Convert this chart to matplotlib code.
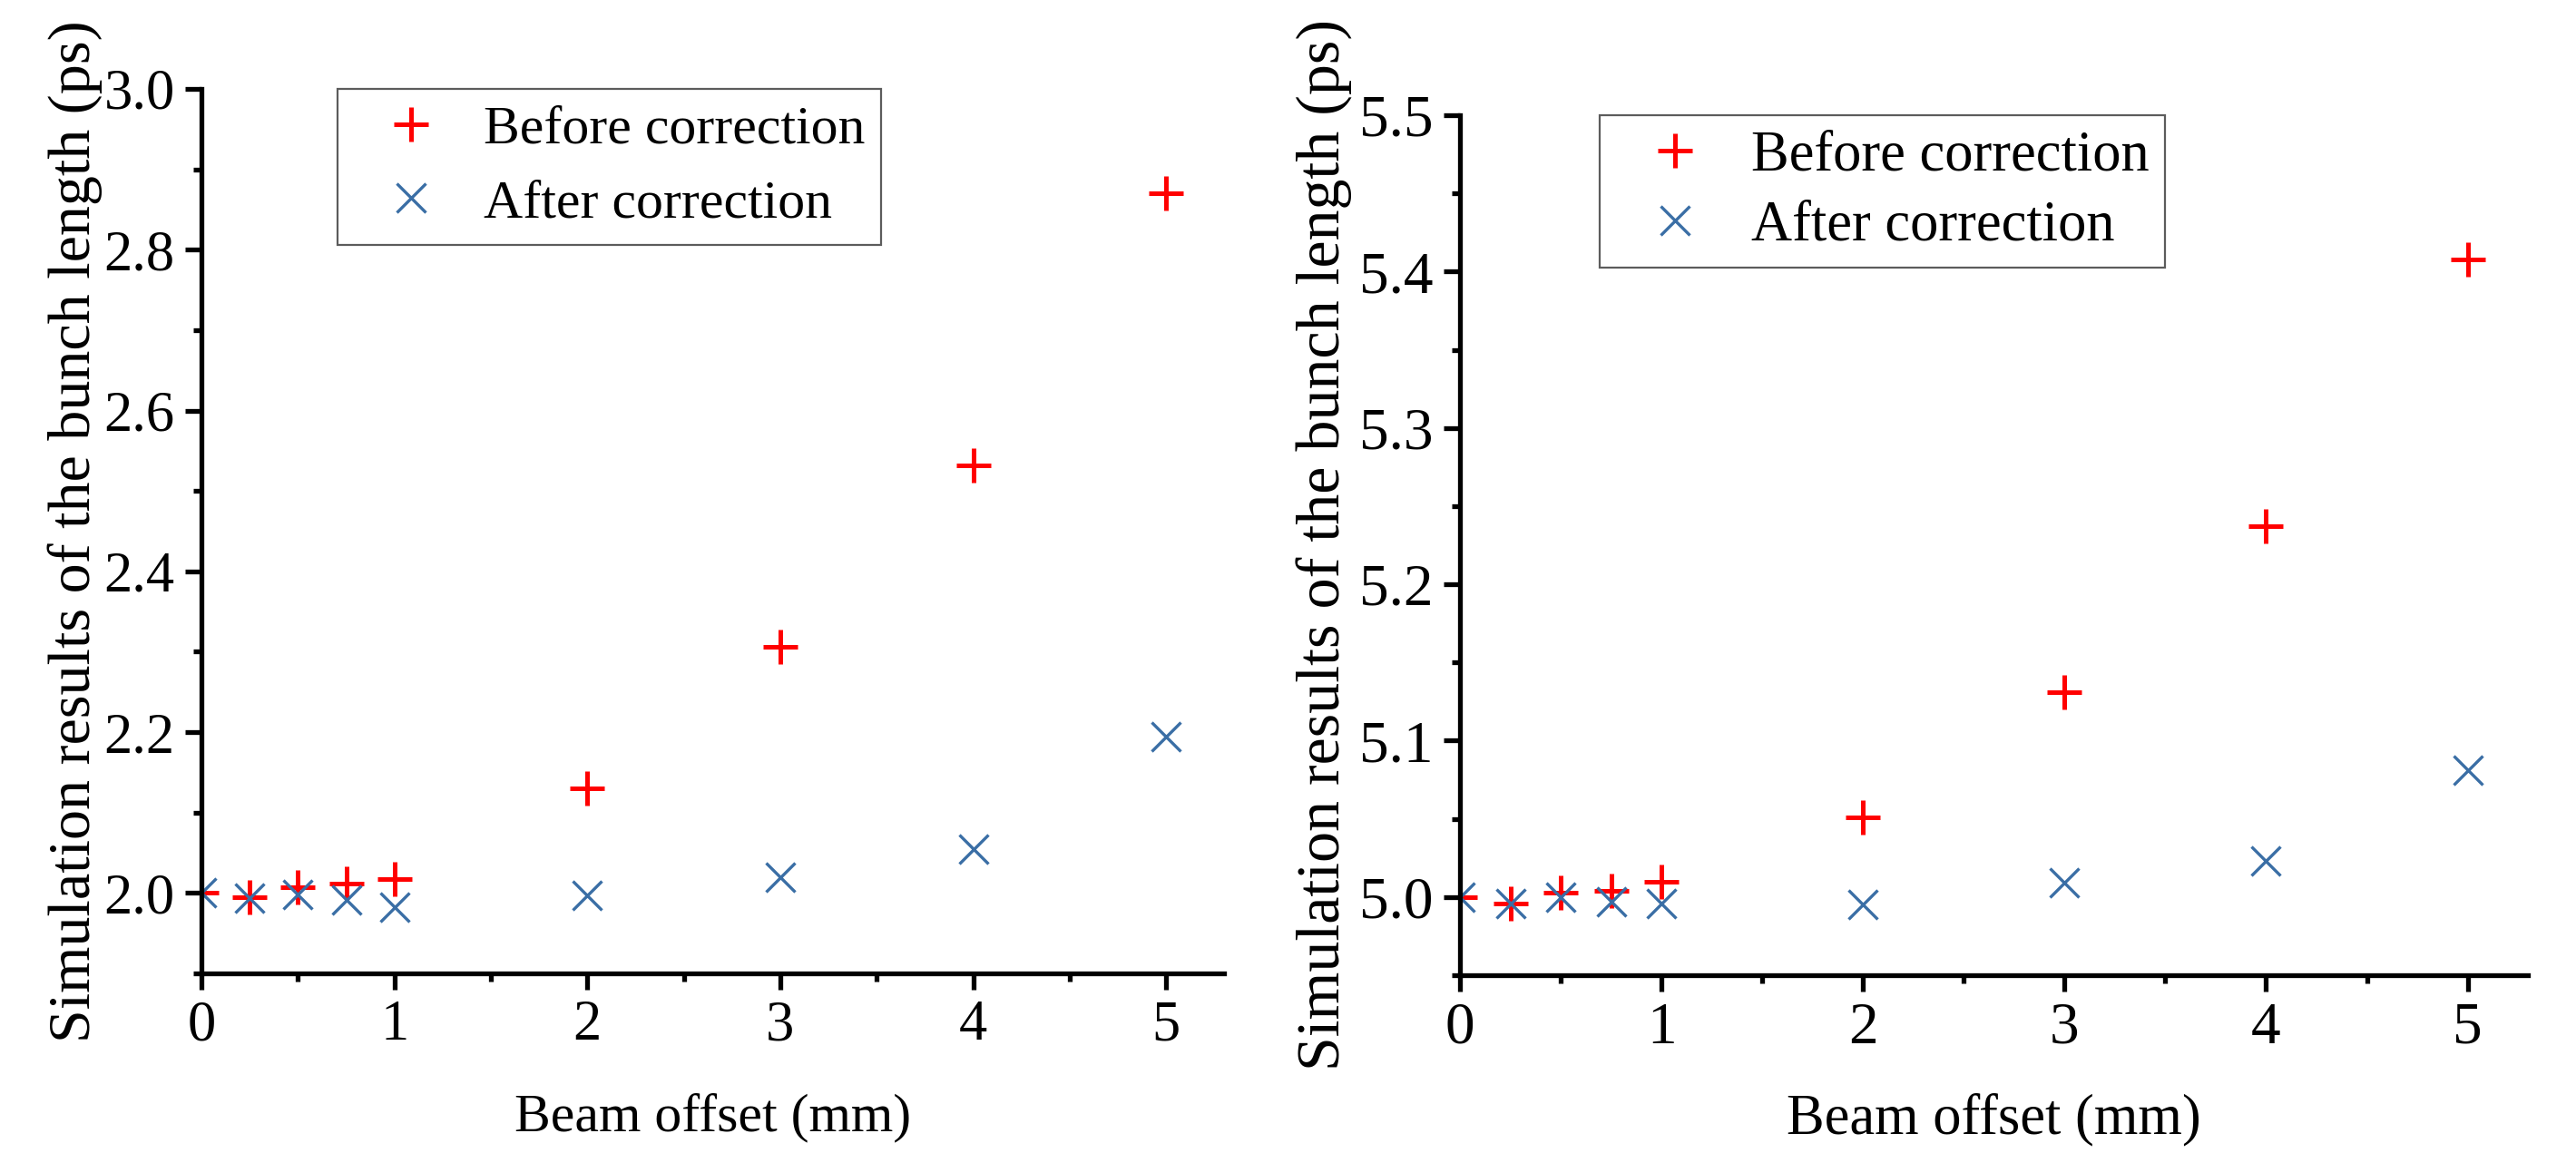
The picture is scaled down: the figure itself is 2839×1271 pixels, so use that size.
import matplotlib
matplotlib.use("Agg")
import matplotlib.pyplot as plt
from matplotlib.ticker import MultipleLocator

# beam offset (mm)
offset = [0, 0.25, 0.5, 0.75, 1, 2, 3, 4, 5]

# left panel (ps)
before_left = [2.000, 1.995, 2.007, 2.012, 2.017, 2.130, 2.306, 2.532, 2.870]
after_left = [2.000, 1.994, 1.998, 1.991, 1.982, 1.997, 2.020, 2.055, 2.194]

# right panel (ps)
before_right = [5.000, 4.996, 5.003, 5.004, 5.010, 5.051, 5.131, 5.237, 5.408]
after_right = [5.000, 4.996, 5.000, 4.997, 4.996, 4.995, 5.009, 5.023, 5.081]

RED = "#ff0000"
BLUE = "#3a6ea5"

plt.rcParams["font.family"] = ["Liberation Serif", "DejaVu Serif"]

fig = plt.figure(figsize=(28.39, 12.71), dpi=100)


def panel(rect, before, after, ylim, major, minor, fs, tfs, yfs, legx,
          lspace, bpad, xlab_y, ylab_x):
    ax = fig.add_axes(rect)
    ax.plot(offset, before, linestyle="none", marker="+", markersize=28,
            markeredgewidth=3.6, color=RED, label="Before correction")
    ax.plot(offset, after, linestyle="none", marker="x", markersize=23,
            markeredgewidth=2.4, color=BLUE, label="After correction")

    ax.set_xlim(0, 5.3)
    ax.set_ylim(*ylim)
    ax.xaxis.set_major_locator(MultipleLocator(1))
    ax.xaxis.set_minor_locator(MultipleLocator(0.5))
    ax.yaxis.set_major_locator(MultipleLocator(major))
    ax.yaxis.set_minor_locator(MultipleLocator(minor))
    ax.yaxis.set_major_formatter(plt.FormatStrFormatter("%.1f"))

    for s in ["top", "right"]:
        ax.spines[s].set_visible(False)
    for s in ["left", "bottom"]:
        ax.spines[s].set_linewidth(3.8)

    ax.tick_params(which="major", length=13, width=3.8, labelsize=tfs, pad=8)
    ax.tick_params(which="minor", length=6.5, width=3.8)

    ax.set_xlabel("Beam offset (mm)", fontsize=fs)
    ax.set_ylabel("Simulation results of the bunch length (ps)", fontsize=yfs)
    ax.xaxis.set_label_coords(0.5, xlab_y)
    ax.yaxis.set_label_coords(ylab_x, 0.5)

    leg = ax.legend(loc="upper left", bbox_to_anchor=(legx, 1.0), fontsize=fs,
                    frameon=True, fancybox=False, borderaxespad=0,
                    borderpad=bpad, handlelength=2.1, handletextpad=0.3,
                    labelspacing=lspace)
    leg.get_frame().set_edgecolor("#333333")
    leg.get_frame().set_linewidth(1.6)
    return ax


panel([0.0782, 0.1558, 0.3970, 0.7671], before_left, after_left,
      (1.9, 3.0), 0.2, 0.1, 43, 45, 47.5, 0.133, 0.45, 0.3, -0.135, -0.097)
panel([0.5668, 0.1542, 0.4146, 0.7459], before_right, after_right,
      (4.95, 5.5), 0.1, 0.05, 45, 47, 49, 0.131, 0.3, 0.27, -0.137, -0.100)

fig.savefig("out.png", dpi=100)
